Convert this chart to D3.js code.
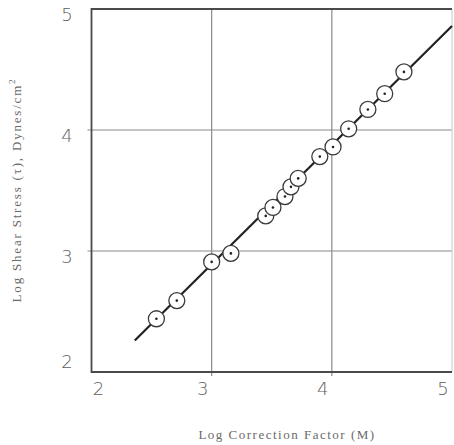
<!DOCTYPE html>
<html>
<head>
<meta charset="utf-8">
<script src="https://cdn.jsdelivr.net/npm/d3@7/dist/d3.min.js"></script>
<style>
  body { margin: 0; background: #fff; }
</style>
</head>
<body>
<div id="root"></div>
<script>
// data (log-log values)
const xTicks = [2, 3, 4, 5];
const yTicks = [2, 3, 4, 5];
const logM = [2.54, 2.71, 3.00, 3.16, 3.45, 3.51, 3.61, 3.66, 3.72, 3.90, 4.01, 4.14, 4.30, 4.44, 4.60];
const logTau = [2.44, 2.59, 2.91, 2.98, 3.29, 3.36, 3.45, 3.53, 3.60, 3.78, 3.86, 4.01, 4.17, 4.30, 4.48];
const fitX = [2.36, 5.0];
const fitY = [2.26, 4.86];

const width = 454,
  height = 445,
  margin = { left: 91.5, top: 9, right: 2, bottom: 73 };

const innerW = width - margin.left - margin.right;
const innerH = height - margin.top - margin.bottom;

const svg = d3.select("#root")
  .append("svg")
  .attr("width", width)
  .attr("height", height)
  .attr("viewBox", [0, 0, width, height]);

const g = svg.append("g")
  .attr("transform", `translate(${margin.left}, ${margin.top})`);

const x = d3.scaleLinear().domain([2, 5]).range([0, innerW]);
const y = d3.scaleLinear().domain([2, 5]).range([innerH, 0]);

// inner grid lines, they poke a little outside the frame
g.append("g").selectAll("line").data(xTicks.slice(1, -1)).join("line")
  .attr("x1", d => x(d)).attr("x2", d => x(d))
  .attr("y1", 0).attr("y2", innerH + 4)
  .attr("stroke", "#8a8a8a").attr("stroke-width", 1.2);
g.append("g").selectAll("line").data(yTicks.slice(1, -1)).join("line")
  .attr("y1", d => y(d)).attr("y2", d => y(d))
  .attr("x1", -4).attr("x2", innerW)
  .attr("stroke", "#8a8a8a").attr("stroke-width", 1.2);

// frame: right side is fainter in the scan
g.append("line").attr("x1", innerW).attr("x2", innerW).attr("y1", 0).attr("y2", innerH)
  .attr("stroke", "#c8c8c8").attr("stroke-width", 1);
g.append("path")
  .attr("d", `M${innerW},0H0V${innerH}H${innerW}`)
  .attr("fill", "none")
  .attr("stroke", "#4a4a4a")
  .attr("stroke-width", 1.8);

// tick labels
g.append("g").selectAll("text").data(xTicks).join("text")
  .attr("x", (d, i) => x(d) + (i === 0 ? 7 : -9))
  .attr("y", innerH + 18)
  .attr("text-anchor", "middle")
  .attr("dominant-baseline", "middle")
  .attr("font-family", "'DejaVu Sans', sans-serif")
  .attr("font-weight", 300)
  .attr("font-size", 18)
  .attr("fill", "#5e5e5e")
  .text(d => d);

g.append("g").selectAll("text").data(yTicks).join("text")
  .attr("x", -24.5)
  .attr("y", (d, i) => y(d) + (i === 0 ? -9 : 7))
  .attr("text-anchor", "middle")
  .attr("dominant-baseline", "middle")
  .attr("font-family", "'DejaVu Sans', sans-serif")
  .attr("font-weight", 300)
  .attr("font-size", 18)
  .attr("fill", "#5e5e5e")
  .text(d => d);

// fitted line
const line = d3.line().x(d => x(d[0])).y(d => y(d[1]));
g.append("path")
  .datum(d3.zip(fitX, fitY))
  .attr("d", line)
  .attr("fill", "none")
  .attr("stroke", "#222")
  .attr("stroke-width", 2.2);

// measured points: open circle with a dot in the middle
const pts = g.append("g").selectAll("g").data(d3.zip(logM, logTau)).join("g")
  .attr("transform", d => `translate(${x(d[0])}, ${y(d[1])})`);
pts.append("circle")
  .attr("r", 8)
  .attr("fill", "#fff")
  .attr("stroke", "#3a3a3a")
  .attr("stroke-width", 1.3);
pts.append("circle")
  .attr("r", 1.3)
  .attr("fill", "#222");

// axis titles
svg.append("text")
  .attr("x", 287)
  .attr("y", 436)
  .attr("text-anchor", "middle")
  .attr("dominant-baseline", "middle")
  .attr("font-family", "'Liberation Serif', serif")
  .attr("font-size", 13)
  .attr("letter-spacing", 1.5)
  .attr("fill", "#6a6a6a")
  .text("Log Correction Factor (M)");

const yt = svg.append("text")
  .attr("transform", "translate(18, 190) rotate(-90)")
  .attr("text-anchor", "middle")
  .attr("dominant-baseline", "middle")
  .attr("font-family", "'Liberation Serif', serif")
  .attr("font-size", 13)
  .attr("letter-spacing", 1.8)
  .attr("fill", "#6a6a6a");
yt.append("tspan").text("Log Shear Stress (τ),  Dynes/cm");
yt.append("tspan").attr("dy", -5).attr("font-size", 9).text("2");
</script>
</body>
</html>
